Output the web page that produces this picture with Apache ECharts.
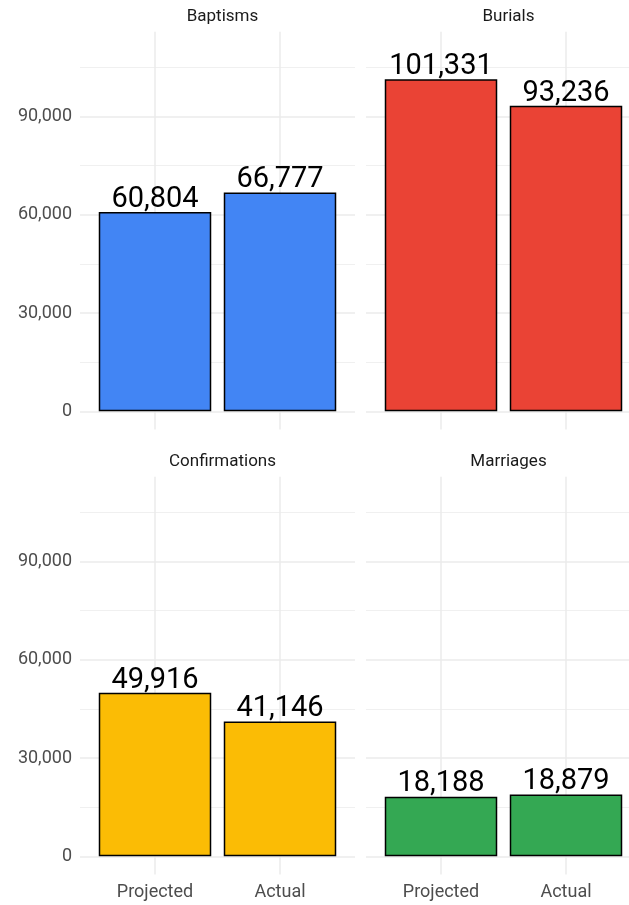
<!DOCTYPE html>
<html>
<head>
<meta charset="utf-8">
<script src="https://cdn.jsdelivr.net/npm/echarts@6/dist/echarts.min.js"></script>
<style>
html, body { margin: 0; padding: 0; background: #fff; overflow: hidden; }
#chart { width: 645px; height: 905px; }
</style>
</head>
<body>
<div id="chart"></div>
<script>
// data
const panels = ['Baptisms', 'Burials', 'Confirmations', 'Marriages']
const categories = ['Projected', 'Actual']
const projected = [60804, 101331, 49916, 18188]
const actual = [66777, 93236, 41146, 18879]
const barColors = ['#4285F4', '#EA4335', '#FBBC05', '#34A853']
const yTicks = [0, 30000, 60000, 90000]
const yMinorTicks = [15000, 45000, 75000, 105000]

// panel layout (ggplot facet style), right column runs past the window edge
const yMin = -5517
const yMax = 115850
const panelW = 275
const panelH = 397.7
const lefts = [80, 366, 80, 366]
const tops = [31.7, 31.7, 476.7, 476.7]
const barW = 0.9 * panelW / 2.2

const chart = echarts.init(document.getElementById('chart'))

const grids = []
const xAxes = []
const yAxes = []
const series = []
const titles = []

panels.forEach((name, i) => {
  const isLeft = i % 2 === 0
  const isBottom = i >= 2
  grids.push({left: lefts[i], top: tops[i], width: panelW, height: panelH})
  titles.push({
    text: name,
    left: lefts[i] + panelW / 2,
    top: tops[i] - 28,
    textAlign: 'center',
    textStyle: {fontFamily: 'Roboto', fontSize: 17, fontWeight: 'normal', color: '#1a1a1a'}
  })
  xAxes.push({
    type: 'value',
    gridIndex: i,
    min: 0.4,
    max: 2.6,
    axisLine: {show: false},
    axisTick: {show: false},
    splitLine: {show: false},
    axisLabel: {
      show: isBottom,
      customValues: [1, 2],
      formatter: v => categories[Math.round(v) - 1],
      margin: 9,
      fontFamily: 'Roboto',
      fontSize: 18,
      color: '#4d4d4d'
    }
  })
  yAxes.push({
    type: 'value',
    gridIndex: i,
    min: yMin,
    max: yMax,
    axisLine: {show: false},
    axisTick: {show: false},
    splitLine: {show: false},
    axisLabel: {
      show: isLeft,
      customValues: yTicks,
      formatter: v => v.toLocaleString('en-US'),
      margin: 8,
      fontFamily: 'Roboto',
      fontSize: 18,
      color: '#4d4d4d'
    }
  })
  const gridLines = []
  yMinorTicks.forEach(v => gridLines.push({yAxis: v, lineStyle: {color: '#f0f0f0', width: 1, type: 'solid'}}))
  yTicks.forEach(v => gridLines.push({yAxis: v, lineStyle: {color: '#ebebeb', width: 1.5, type: 'solid'}}))
  ;[1, 2].forEach(v => gridLines.push({xAxis: v, lineStyle: {color: '#ebebeb', width: 1.5, type: 'solid'}}))
  series.push({
    type: 'bar',
    xAxisIndex: i,
    yAxisIndex: i,
    barWidth: barW,
    z: 2,
    data: [[1, projected[i]], [2, actual[i]]],
    itemStyle: {color: barColors[i], borderColor: '#000', borderWidth: 1.5},
    label: {
      show: true,
      position: 'top',
      distance: -2,
      formatter: p => p.value[1].toLocaleString('en-US'),
      fontFamily: 'Roboto',
      fontSize: 29,
      color: '#000'
    },
    markLine: {
      silent: true,
      z: 0,
      symbol: 'none',
      label: {show: false},
      animation: false,
      lineStyle: {type: 'solid'},
      data: gridLines
    }
  })
})

chart.setOption({
  animation: false,
  title: titles,
  grid: grids,
  xAxis: xAxes,
  yAxis: yAxes,
  series: series
})
</script>
</body>
</html>
